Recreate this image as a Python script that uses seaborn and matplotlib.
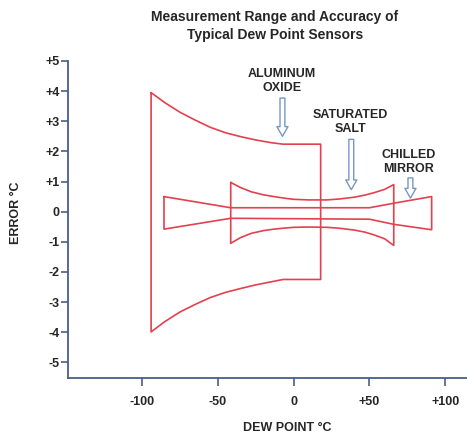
import matplotlib

matplotlib.use("Agg")

import matplotlib.pyplot as plt
import pandas as pd
import seaborn as sns

# aluminum oxide band (upper / lower edge)
al_x = [-94, -85, -75, -65, -55, -45, -35, -25, -15, -7, 17.8]
al_top = [3.95, 3.62, 3.30, 3.04, 2.80, 2.62, 2.49, 2.38, 2.29, 2.24, 2.24]
al_bot = [-3.99, -3.65, -3.33, -3.08, -2.85, -2.68, -2.55, -2.43, -2.33, -2.25, -2.25]

# saturated salt band
salt_x = [-41.5, -35, -28, -20, -13, -5, 0, 10, 22, 30, 40, 47, 53, 60, 66]
salt_top = [0.97, 0.80, 0.66, 0.56, 0.50, 0.44, 0.41, 0.39, 0.39, 0.42, 0.48, 0.55, 0.63, 0.74, 0.90]
salt_bot = [-1.05, -0.86, -0.72, -0.63, -0.58, -0.54, -0.52, -0.51, -0.52, -0.55, -0.61, -0.68, -0.77, -0.90, -1.12]

# chilled mirror band
cm_x = [-85.5, -41.5, 50, 66, 91]
cm_top = [0.50, 0.13, 0.13, 0.28, 0.50]
cm_bot = [-0.58, -0.22, -0.25, -0.42, -0.60]

x_ticks = [-100, -50, 0, 50, 100]
x_tick_labels = ["-100", "-50", "0", "+50", "+100"]
y_ticks = [5, 4, 3, 2, 1, 0, -1, -2, -3, -4, -5]
y_tick_labels = ["+5", "+4", "+3", "+2", "+1", "0", "-1", "-2", "-3", "-4", "-5"]

sensor_labels = ["ALUMINUM\nOXIDE", "SATURATED\nSALT", "CHILLED\nMIRROR"]
label_x = [-7.5, 37.5, 76]
label_y = [4.33, 2.97, 1.66]
arrow_x = [-7.4, 38, 77]
arrow_start = [3.77, 2.40, 1.12]
arrow_end = [2.50, 0.73, 0.45]

RED = "#e2414f"
AXIS = "#4b5d8a"
ARROW = "#7896c4"

sns.set_style("white")
plt.rcParams["font.family"] = ["Liberation Sans", "DejaVu Sans"]
plt.rcParams["font.weight"] = "bold"


def outline(xs, top, bot):
    px = list(xs) + list(xs[::-1]) + [xs[0]]
    py = list(top) + list(bot[::-1]) + [top[0]]
    return pd.DataFrame({"x": px, "y": py})


fig = plt.figure(figsize=(4.67, 4.36), dpi=100)
ax = fig.add_axes([68 / 467, 58 / 436, 399 / 467, 317 / 436])

for xs, top, bot in [(al_x, al_top, al_bot), (salt_x, salt_top, salt_bot), (cm_x, cm_top, cm_bot)]:
    df = outline(xs, top, bot)
    sns.lineplot(data=df, x="x", y="y", sort=False, estimator=None, color=RED, lw=1.2, ax=ax)

for name, lx, ly, axx, y0, y1 in zip(sensor_labels, label_x, label_y, arrow_x, arrow_start, arrow_end):
    ax.text(lx, ly, name, ha="center", va="center", fontsize=9, fontweight="bold", linespacing=1.25)
    ax.annotate(
        "",
        xy=(axx, y1),
        xytext=(axx, y0),
        arrowprops=dict(
            arrowstyle="simple,head_length=0.7,head_width=0.8,tail_width=0.35",
            fc="white",
            ec=ARROW,
            lw=1.0,
            shrinkA=0,
            shrinkB=0,
            mutation_scale=10,
        ),
    )

ax.set_xlim(-148.8, 114.3)
ax.set_ylim(-5.52, 5.0)
ax.set_xticks(x_ticks)
ax.set_xticklabels(x_tick_labels, fontsize=9, fontweight="bold")
ax.set_yticks(y_ticks)
ax.set_yticklabels(y_tick_labels, fontsize=9, fontweight="bold")
ax.tick_params(axis="x", bottom=True, direction="out", length=6, width=1.2, color=AXIS, pad=7)
ax.tick_params(axis="y", left=True, direction="out", length=5, width=1.2, color=AXIS, pad=1)

for side in ["top", "right"]:
    ax.spines[side].set_visible(False)
for side in ["left", "bottom"]:
    ax.spines[side].set_color(AXIS)
    ax.spines[side].set_linewidth(1.3)

ax.set_xlabel("DEW POINT \u00b0C", fontsize=9, fontweight="bold")
ax.set_ylabel("ERROR \u00b0C", fontsize=9, fontweight="bold")
ax.xaxis.set_label_coords(0.549, -0.14)
ax.yaxis.set_label_coords(-0.115, 0.52)

fig.text(275 / 467, 1 - 26 / 436, "Measurement Range and Accuracy of\nTypical Dew Point Sensors",
         ha="center", va="center", fontsize=10, fontweight="bold", linespacing=1.3)

fig.savefig("out.png", dpi=100)
